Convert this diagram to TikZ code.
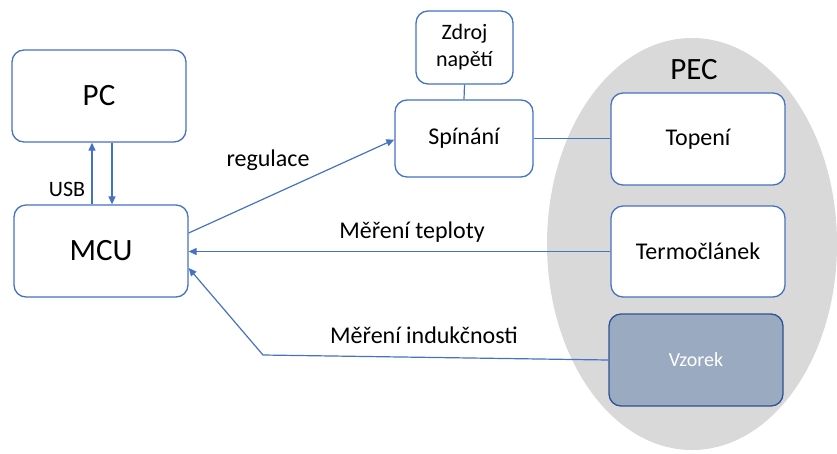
\documentclass[tikz,border=0pt]{standalone}
\usepackage{fontspec}
\setmainfont{Carlito}
\usetikzlibrary{arrows.meta,shapes.geometric}
\definecolor{boxblue}{HTML}{4472C4}
\definecolor{darkblue}{HTML}{2F528F}
\definecolor{samplefill}{HTML}{9AAAC0}
\definecolor{ovengray}{HTML}{D9D9D9}
\tikzset{
  blk/.style={draw=boxblue,line width=1.3pt,rounded corners=12pt,fill=white,
    inner sep=0pt,font=\fontsize{24}{27}\selectfont},
  bigblk/.style={blk,font=\fontsize{31}{34}\selectfont},
  wire/.style={draw=boxblue,line width=1.2pt},
  sig/.style={wire,-{Triangle[length=8pt,width=7pt]}},
  lbl/.style={font=\fontsize{24}{27}\selectfont,inner sep=0pt}
}
\begin{document}
\begin{tikzpicture}[x=1pt,y=-1pt]
  \useasboundingbox (0,0) rectangle (837,453);
  % oven
  \fill[ovengray] (692,244) ellipse [x radius=145, y radius=206];
  \node[font=\fontsize{31}{34}\selectfont] (pec) at (694,70) {PEC};
  % blocks
  \node[bigblk,minimum width=174pt,minimum height=92pt] (pc) at (99,96) {PC};
  \node[bigblk,minimum width=174pt,minimum height=92pt] (mcu) at (101,251) {MCU};
  \node[blk,minimum width=97pt,minimum height=73pt,align=center,
    font=\fontsize{22}{27}\selectfont] (zdroj) at (464.5,47.5) {Zdroj\\napětí};
  \node[blk,minimum width=138pt,minimum height=77pt] (spinani) at (464,138.5) {Spínání};
  \node[blk,minimum width=174pt,minimum height=92pt] (topeni) at (698,139) {Topení};
  \node[blk,minimum width=174pt,minimum height=91pt] (termo) at (698,251.5) {Termočlánek};
  \node[blk,draw=darkblue,fill=samplefill,text=white,minimum width=174pt,minimum height=92pt,
    font=\fontsize{20}{24}\selectfont] (vzorek) at (696,360) {Vzorek};
  % connections
  \draw[sig] ([xshift=-9pt]mcu.north) -- ([xshift=-9pt]mcu.north |- pc.south);
  \draw[sig] ([xshift=11pt]mcu.north |- pc.south) -- ([xshift=11pt]mcu.north);
  \node[lbl,font=\fontsize{22}{26}\selectfont] (usb) at (67,189) {USB};
  \draw[wire] (zdroj.south) -- (spinani.north);
  \draw[wire] (spinani.east) -- (spinani.east -| topeni.west);
  \draw[sig] ([yshift=18pt]mcu.east) -- ([yshift=-1pt]spinani.west);
  \node[lbl] (reg) at (268,160) {regulace};
  \draw[sig] (termo.west) -- (termo.west -| mcu.east);
  \node[lbl] (tepl) at (412,232) {Měření teploty};
  \coordinate (bend) at (263,355);
  \draw[sig] (vzorek.west) -- (bend) -- ([yshift=-17pt]mcu.east);
  \node[lbl] (ind) at (424,335) {Měření indukčnosti};
\end{tikzpicture}
\end{document}
